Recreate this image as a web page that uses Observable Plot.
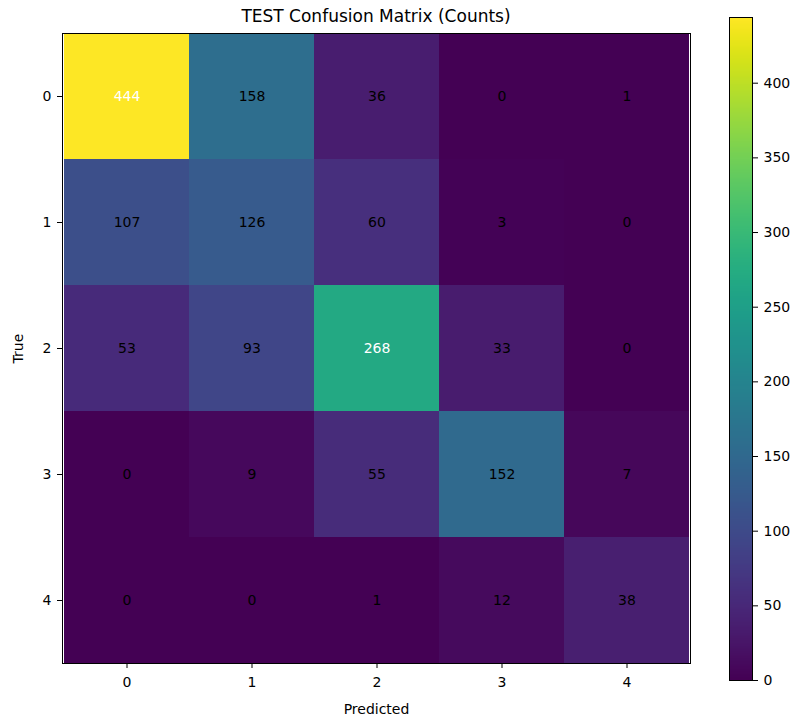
<!DOCTYPE html>
<html>
<head>
<meta charset="utf-8">
<script src="https://cdn.jsdelivr.net/npm/d3@7"></script>
<script src="https://cdn.jsdelivr.net/npm/@observablehq/plot@0.6"></script>
<style>
  html, body { margin: 0; padding: 0; background: #fff; }
  #wrap { position: relative; width: 807px; height: 720px; font-family: "DejaVu Sans", sans-serif; }
  #title { position: absolute; left: 62px; width: 628px; top: 6px; text-align: center; font-size: 17px; color: #000; }
  #main { position: absolute; left: 0; top: 0; }
  #cbar { position: absolute; left: 700px; top: 0; }
</style>
</head>
<body>
<div id="wrap">
  <div id="main"></div>
  <div id="cbar"></div>
  <div id="title"></div>
</div>
<script>
const classLabels = ["0", "1", "2", "3", "4"];
const row0 = [444, 158, 36, 0, 1];
const row1 = [107, 126, 60, 3, 0];
const row2 = [53, 93, 268, 33, 0];
const row3 = [0, 9, 55, 152, 7];
const row4 = [0, 0, 1, 12, 38];
const colorTicks = [0, 50, 100, 150, 200, 250, 300, 350, 400];
const titleText = "TEST Confusion Matrix (Counts)";

document.getElementById("title").textContent = titleText;

const rows = [row0, row1, row2, row3, row4];
const cells = [];
rows.forEach((r, i) => r.forEach((v, j) => cells.push({ actual: classLabels[i], predicted: classLabels[j], count: v })));
const vmax = d3.max(cells, d => d.count);
const vmin = d3.min(cells, d => d.count);
const thresh = (vmax + vmin) / 2;

const font = "DejaVu Sans, sans-serif";

const main = Plot.plot({
  width: 807,
  height: 720,
  marginLeft: 62,
  marginRight: 117,
  marginTop: 33,
  marginBottom: 57,
  style: { fontFamily: font, fontSize: "14px", color: "#000", background: "transparent" },
  x: { type: "band", domain: classLabels, padding: 0 },
  y: { type: "band", domain: classLabels, padding: 0 },
  color: { type: "linear", scheme: "viridis", domain: [vmin, vmax] },
  marks: [
    Plot.cell(cells, { x: "predicted", y: "actual", fill: "count", inset: 0 }),
    Plot.text(cells, {
      x: "predicted", y: "actual", text: d => String(d.count),
      fill: d => d.count > thresh ? "white" : "black", fontSize: 14
    }),
    Plot.frame({ stroke: "black", strokeWidth: 1 }),
    Plot.axisX({ tickSize: 5, tickPadding: 9, fontSize: 14, label: "Predicted", labelAnchor: "center", labelArrow: "none", labelOffset: 50 }),
    Plot.axisY({ tickSize: 5, tickPadding: 6, fontSize: 14, label: "True", labelAnchor: "center", labelArrow: "none", labelOffset: 49 })
  ]
});
document.getElementById("main").appendChild(main);

const cbar = Plot.plot({
  width: 107,
  height: 720,
  marginLeft: 29,
  marginRight: 55,
  marginTop: 17,
  marginBottom: 40,
  style: { fontFamily: font, fontSize: "14px", color: "#000", background: "transparent" },
  x: { domain: [0, 1], axis: null },
  y: { domain: [vmin, vmax], axis: null },
  color: { type: "linear", scheme: "viridis", domain: [vmin, vmax] },
  marks: [
    Plot.raster({ x1: 0, x2: 1, y1: vmin, y2: vmax, width: 1, height: 256, fill: (x, y) => y, imageRendering: "auto" }),
    Plot.frame({ stroke: "black", strokeWidth: 1 }),
    Plot.axisY({ anchor: "right", ticks: colorTicks, tickSize: 5, tickPadding: 6, fontSize: 14, label: null })
  ]
});
document.getElementById("cbar").appendChild(cbar);
</script>
</body>
</html>
